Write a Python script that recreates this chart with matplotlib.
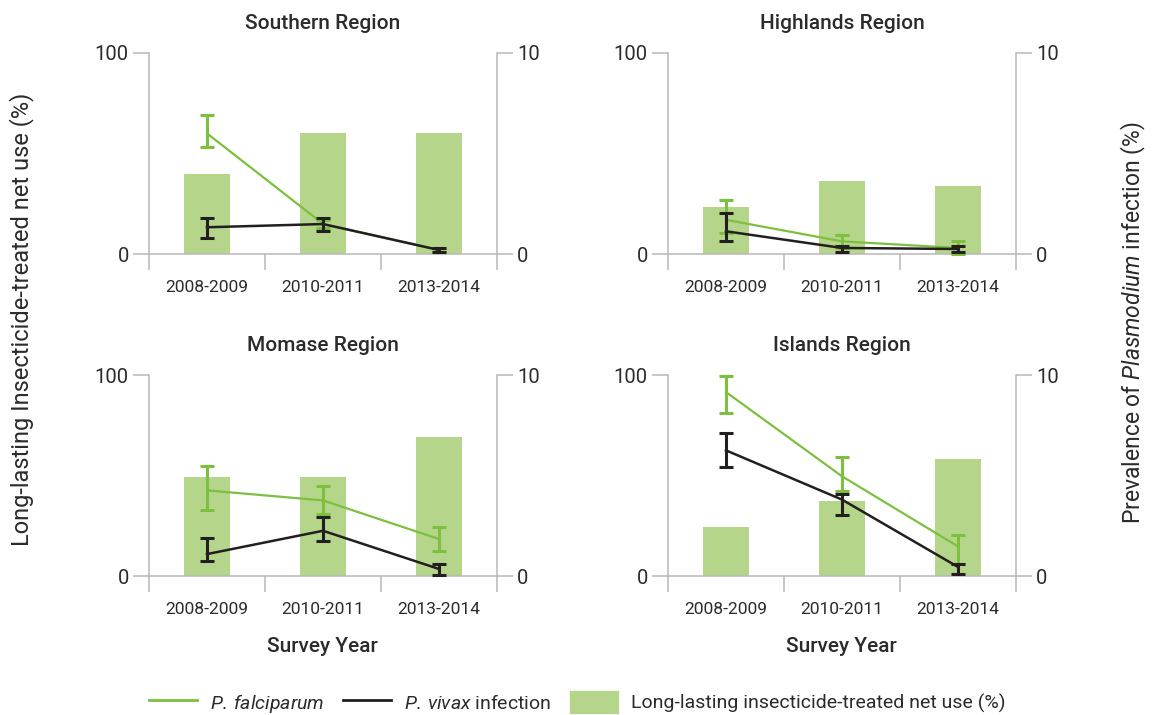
import matplotlib.pyplot as plt
import matplotlib.lines as mlines
import matplotlib.patches as mpatches
import numpy as np

plt.rcParams["font.family"] = ["Roboto", "DejaVu Sans"]
plt.rcParams["mathtext.fontset"] = "custom"
plt.rcParams["mathtext.rm"] = "Roboto"
plt.rcParams["mathtext.it"] = "Roboto:italic"

GREEN = "#7dbf3f"
BAR = "#b5d68a"
BLACK = "#231f20"
AXIS = "#b8b8bb"
TEXT = "#2b2b2b"

years = ["2008-2009", "2010-2011", "2013-2014"]
regions = ["Southern Region", "Highlands Region", "Momase Region", "Islands Region"]

# long-lasting insecticide-treated net use (%), left axis
net_use = {
    "Southern Region":  [40, 60, 60],
    "Highlands Region": [23.5, 36.5, 34],
    "Momase Region":    [49.5, 49.5, 69.3],
    "Islands Region":   [24.5, 37.5, 58],
}

# P. falciparum prevalence (%), right axis: value, lower, upper
falc = {
    "Southern Region":  [6.0, 1.5, 0.2],
    "Highlands Region": [1.7, 0.63, 0.3],
    "Momase Region":    [4.26, 3.76, 1.84],
    "Islands Region":   [9.15, 4.96, 1.47],
}
falc_lo = {
    "Southern Region":  [5.3, 1.3, 0.1],
    "Highlands Region": [1.04, 0.3, 0.0],
    "Momase Region":    [3.28, 3.1, 1.22],
    "Islands Region":   [8.1, 4.24, 0.61],
}
falc_hi = {
    "Southern Region":  [6.9, 1.7, 0.3],
    "Highlands Region": [2.69, 0.96, 0.66],
    "Momase Region":    [5.49, 4.46, 2.42],
    "Islands Region":   [9.97, 5.94, 2.02],
}

# P. vivax prevalence (%), right axis
vivax = {
    "Southern Region":  [1.33, 1.49, 0.2],
    "Highlands Region": [1.13, 0.3, 0.25],
    "Momase Region":    [1.09, 2.25, 0.35],
    "Islands Region":   [6.25, 3.8, 0.45],
}
vivax_lo = {
    "Southern Region":  [0.81, 1.16, 0.1],
    "Highlands Region": [0.66, 0.1, 0.1],
    "Momase Region":    [0.75, 1.76, 0.06],
    "Islands Region":   [5.42, 3.05, 0.1],
}
vivax_hi = {
    "Southern Region":  [1.8, 1.8, 0.3],
    "Highlands Region": [2.04, 0.4, 0.4],
    "Momase Region":    [1.9, 2.94, 0.61],
    "Islands Region":   [7.13, 4.09, 0.6],
}

fig = plt.figure(figsize=(11.54, 7.15), dpi=100)

W = 348 / 1154
H = 201 / 715
positions = [
    (149 / 1154, 1 - 254 / 715),
    (668 / 1154, 1 - 254 / 715),
    (149 / 1154, 1 - 576 / 715),
    (668 / 1154, 1 - 576 / 715),
]

x = np.arange(len(years))


def errs(vals, lo, hi):
    vals = np.array(vals)
    return np.vstack([vals - np.array(lo), np.array(hi) - vals])


for i, reg in enumerate(regions):
    left, bottom = positions[i]
    ax = fig.add_axes([left, bottom, W, H])
    ax.bar(x, net_use[reg], width=0.4, color=BAR, zorder=1)
    ax.set_xlim(-0.5, 2.5)
    ax.set_ylim(0, 100)
    ax.set_yticks([0, 100])
    ax.set_xticks(x)
    ax.set_xticklabels(years, fontsize=12.5, color=TEXT)
    ax.set_xticks([-0.5, 0.5, 1.5, 2.5], minor=True)
    ax.tick_params(axis="x", which="major", length=0, pad=19)
    ax.tick_params(axis="x", which="minor", length=11.5, width=1.1,
                   color=AXIS, direction="out")
    ax.tick_params(axis="y", length=11.5, width=1.1, color=AXIS,
                   labelsize=14.5, labelcolor=TEXT, pad=3)
    ax.set_title(reg, fontsize=15, fontweight="medium", color=TEXT, pad=17)
    for s in ["top", "right"]:
        ax.spines[s].set_visible(False)
    for s in ["left", "bottom"]:
        ax.spines[s].set_color(AXIS)
        ax.spines[s].set_linewidth(1.1)

    ax2 = ax.twinx()
    ax2.set_ylim(0, 10)
    ax2.set_yticks([0, 10])
    ax2.tick_params(axis="y", length=11.5, width=1.1, color=AXIS,
                    labelsize=14.5, labelcolor=TEXT, pad=3)
    for s in ["top", "left", "bottom"]:
        ax2.spines[s].set_visible(False)
    ax2.spines["right"].set_color(AXIS)
    ax2.spines["right"].set_linewidth(1.1)

    ax2.errorbar(x, falc[reg], yerr=errs(falc[reg], falc_lo[reg], falc_hi[reg]),
                 color=GREEN, lw=1.6, elinewidth=2.2, capsize=5, capthick=2.2,
                 zorder=2, clip_on=False)
    ax2.errorbar(x, vivax[reg], yerr=errs(vivax[reg], vivax_lo[reg], vivax_hi[reg]),
                 color=BLACK, lw=1.8, elinewidth=2.2, capsize=5, capthick=2.2,
                 zorder=3, clip_on=False)

fig.text(0.019, 0.553, "Long-lasting Insecticide-treated net use (%)",
         rotation=90, ha="center", va="center", fontsize=17, color=TEXT)
fig.text(0.982, 0.549, r"Prevalence of $\it{Plasmodium}$ infection (%)",
         rotation=90, ha="center", va="center", fontsize=16.5, color=TEXT)

for xc in [322 / 1154, 841 / 1154]:
    fig.text(xc, 1 - 646 / 715, "Survey Year", ha="center", va="center",
             fontsize=15, fontweight="medium", color=TEXT)

handles = [
    mlines.Line2D([], [], color=GREEN, lw=2),
    mlines.Line2D([], [], color=BLACK, lw=2),
    mpatches.Patch(color=BAR),
]
labels = [r"$\it{P.\,falciparum}$", r"$\it{P.\,vivax}$ infection",
          "Long-lasting insecticide-treated net use (%)"]
leg = fig.legend(handles, labels, loc="center", bbox_to_anchor=(0.5, 1 - 703 / 715),
                 ncol=3, frameon=False, fontsize=14, handlelength=2.5,
                 handleheight=1.3, handletextpad=0.65, columnspacing=0.95)
for t in leg.get_texts():
    t.set_color(TEXT)

fig.savefig("out.png", dpi=100)
